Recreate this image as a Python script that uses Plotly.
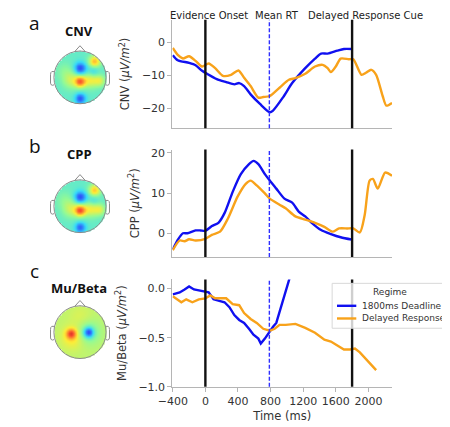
import numpy as np
import plotly.graph_objects as go

# The page keeps the browser's default 8px body margin, so the figure is drawn
# 8px smaller and all positions below are given in window pixels.
PAGE_W, PAGE_H, PAGE_MARGIN = 450, 427, 8
W, H = PAGE_W - PAGE_MARGIN, PAGE_H - PAGE_MARGIN

# ---------------- data ----------------
EVENT_TIMES = [0, 1800]
MEAN_RT = 785
EVENT_LABELS = ["Evidence Onset", "Mean RT", "Delayed Response Cue"]
EVENT_LABEL_POS = [50, 880, 1965]

LEGEND_TITLE = "Regime"
SERIES_NAMES = ["1800ms Deadline", "Delayed Response"]

cnv_t_deadline = [-400, -340, -200, -120, -40, 20, 140, 255, 355, 415, 475, 555, 670, 790, 830, 950, 1065, 1225, 1345, 1420, 1500, 1620, 1700, 1800]
cnv_deadline = [-3.9, -5.4, -6.2, -6.9, -8.6, -9.5, -11.1, -12.0, -12.7, -12.3, -13.2, -15.7, -18.6, -21.1, -20.6, -16.7, -12.3, -7.8, -4.9, -3.4, -3.4, -2.5, -2.0, -2.0]
cnv_t_delayed = [-400, -335, -275, -200, -120, -40, 40, 120, 215, 315, 405, 475, 555, 650, 710, 790, 910, 1025, 1105, 1225, 1345, 1440, 1500, 1540, 1600, 1660, 1760, 1815, 1915, 1975, 2035, 2095, 2175, 2220, 2290]
cnv_delayed = [-1.7, -3.9, -4.9, -4.2, -5.6, -7.3, -6.4, -7.8, -10.1, -9.8, -8.5, -10.7, -13.2, -16.7, -16.5, -16.2, -13.7, -11.3, -10.8, -9.5, -7.3, -6.8, -7.8, -9.0, -7.3, -4.9, -5.1, -5.1, -9.8, -9.1, -8.3, -9.8, -16.2, -19.1, -18.3]

cpp_t_deadline = [-400, -335, -275, -220, -120, -60, 0, 80, 160, 235, 335, 435, 535, 590, 650, 730, 790, 870, 970, 1065, 1145, 1225, 1305, 1420, 1540, 1660, 1800]
cpp_deadline = [-4.0, -1.5, 0.0, 0.0, 0.7, 0.7, 0.6, 1.8, 2.6, 5.0, 10.3, 14.7, 17.2, 18.0, 17.2, 14.7, 13.1, 11.1, 8.6, 7.6, 5.4, 4.2, 2.6, 0.8, -0.2, -1.0, -1.6]
cpp_t_delayed = [-400, -315, -255, -200, -120, 0, 80, 180, 275, 395, 495, 555, 630, 730, 790, 910, 985, 1105, 1225, 1345, 1460, 1560, 1640, 1740, 1815, 1895, 1955, 2015, 2055, 2115, 2205, 2290]
cpp_delayed = [-4.2, -1.8, -2.0, -1.5, -1.8, -1.4, -0.4, 0.4, 3.6, 9.1, 12.3, 13.1, 11.9, 9.9, 8.6, 7.1, 6.2, 4.2, 3.4, 2.6, 1.6, 0.4, 1.2, 1.2, 1.2, 0.2, 4.6, 13.1, 13.5, 11.1, 15.1, 14.3]

mu_t_deadline = [-400, -315, -255, -200, -140, -80, 0, 40, 100, 180, 235, 295, 355, 415, 475, 535, 590, 650, 680, 730, 790, 830, 870, 950, 1035]
mu_deadline = [-0.06, -0.04, -0.01, 0.02, -0.01, -0.02, -0.03, -0.04, -0.11, -0.13, -0.14, -0.19, -0.27, -0.32, -0.35, -0.41, -0.47, -0.51, -0.56, -0.51, -0.43, -0.39, -0.35, -0.13, 0.11]
mu_t_delayed = [-400, -295, -235, -160, -80, 0, 60, 120, 180, 255, 335, 415, 475, 555, 630, 710, 790, 850, 910, 985, 1105, 1225, 1345, 1460, 1540, 1620, 1700, 1775, 1835, 1895, 1975, 2035, 2095]
mu_delayed = [-0.08, -0.14, -0.11, -0.14, -0.11, -0.10, -0.07, -0.10, -0.10, -0.10, -0.16, -0.17, -0.25, -0.31, -0.35, -0.41, -0.43, -0.41, -0.37, -0.37, -0.36, -0.40, -0.45, -0.52, -0.54, -0.58, -0.62, -0.62, -0.61, -0.65, -0.72, -0.78, -0.83]

X_TICKS = [-400, 0, 400, 800, 1200, 1600, 2000]
CNV_TICKS = [0, -10, -20]
CPP_TICKS = [0, 10, 20]
MU_TICKS = [0.0, -0.5, -1.0]

PANEL_LETTERS = ["a", "b", "c"]
PANEL_NAMES = ["CNV", "CPP", "Mu/Beta"]
Y_TITLES = ["CNV (<i>μV/m</i><sup>2</sup>)", "CPP (<i>μV/m</i><sup>2</sup>)", "Mu/Beta (<i>μV/m</i><sup>2</sup>)"]

# topography blobs: (x, y, amplitude, width) on a unit head; background level
cnv_topo_bg = 0.42
cnv_topo_blobs = [(0.0, 0.35, -0.30, 0.16), (0.55, 0.62, 0.30, 0.16), (0.5, 0.22, -0.10, 0.14),
                  (-0.35, -0.1, 0.15, 0.22), (0.4, -0.1, 0.2, 0.2), (0.75, -0.12, 0.16, 0.15),
                  (0.0, -0.15, 0.38, 0.15), (0.0, -0.8, -0.28, 0.14), (-0.6, 0.25, 0.06, 0.25)]
cpp_topo_bg = 0.42
cpp_topo_blobs = [(0.0, 0.35, -0.30, 0.16), (0.55, 0.62, 0.28, 0.16), (0.5, 0.22, -0.08, 0.14),
                  (-0.35, -0.1, 0.15, 0.22), (0.4, -0.1, 0.2, 0.2), (0.75, -0.12, 0.16, 0.15),
                  (0.0, -0.15, 0.40, 0.15), (0.0, -0.8, -0.26, 0.14), (-0.6, 0.25, 0.06, 0.25)]
mu_topo_bg = 0.56
mu_topo_blobs = [(-0.35, -0.05, 0.28, 0.13), (-0.3, -0.2, 0.1, 0.3), (0.32, 0.0, -0.33, 0.13),
                 (0.32, 0.0, -0.12, 0.3), (0.0, 0.6, 0.04, 0.3)]

BLUE = "#1010f0"
ORANGE = "#f8a21a"

# ---------------- helpers ----------------
def px_x(p):
    return (p - PAGE_MARGIN) / W

def px_y(p):
    return 1 - (p - PAGE_MARGIN) / H

XR = [-404, 2290]
X_DOM = [px_x(162.7), px_x(390)]
PANELS = [
    dict(top=17, bot=128, rng=[-25.9, 6.8], ticks=CNV_TICKS, fmt="d"),
    dict(top=150, bot=260, rng=[-5.9, 20.8], ticks=CPP_TICKS, fmt="d"),
    dict(top=283, bot=393, rng=[-1.0, 0.092], ticks=MU_TICKS, fmt=".1f"),
]
SERIES = [
    (cnv_t_deadline, cnv_deadline, cnv_t_delayed, cnv_delayed, "spline"),
    (cpp_t_deadline, cpp_deadline, cpp_t_delayed, cpp_delayed, "spline"),
    (mu_t_deadline, mu_deadline, mu_t_delayed, mu_delayed, "linear"),
]
TOPOS = [(cnv_topo_bg, cnv_topo_blobs), (cpp_topo_bg, cpp_topo_blobs), (mu_topo_bg, mu_topo_blobs)]
HEAD_CENTERS = [76, 208, 337]
LETTER_Y = [20, 146, 274]
NAME_Y = [29, 154, 292]

JET = [[0.0, "rgb(0,0,140)"], [0.12, "rgb(10,40,250)"], [0.34, "rgb(20,215,250)"],
       [0.5, "rgb(130,250,130)"], [0.65, "rgb(255,235,20)"], [0.88, "rgb(250,40,10)"],
       [1.0, "rgb(140,0,0)"]]

fig = go.Figure()
layout = dict(width=W, height=H, margin=dict(l=0, r=0, t=0, b=0),
              plot_bgcolor="white", paper_bgcolor="white", showlegend=False,
              font=dict(family="DejaVu Sans", size=11, color="#333"))
shapes = []
annotations = []

for i, (P, S) in enumerate(zip(PANELS, SERIES)):
    n = i + 1
    xa = "x" if n == 1 else f"x{n}"
    ya = "y" if n == 1 else f"y{n}"
    t1, v1, t2, v2, shp = S
    for (tt, vv, col, name) in [(t1, v1, BLUE, SERIES_NAMES[0]), (t2, v2, ORANGE, SERIES_NAMES[1])]:
        fig.add_trace(go.Scatter(x=tt, y=vv, mode="lines", name=name,
                                 line=dict(color=col, width=2.4, shape=shp, smoothing=0.7),
                                 xaxis=xa, yaxis=ya))
    last = (n == 3)
    xdict = dict(
        domain=X_DOM, range=XR, anchor=ya, showgrid=False, zeroline=False,
        showline=True, linecolor="#b5b5b5", linewidth=1.3,
        ticks="outside" if last else "",
        ticklen=4, tickcolor="#b5b5b5", showticklabels=last,
        tickfont=dict(size=11, color="#333"),
    )
    if last:
        xdict["tickvals"] = X_TICKS
        xdict["title"] = dict(text="Time (ms)", font=dict(size=11.5, color="#333"), standoff=4)
    layout[f"xaxis{'' if n == 1 else n}"] = xdict
    layout[f"yaxis{'' if n == 1 else n}"] = dict(
        domain=[px_y(P["bot"]), px_y(P["top"])], range=P["rng"], anchor=xa,
        showgrid=False, zeroline=False, showline=True, linecolor="#b5b5b5", linewidth=1.3,
        tickvals=P["ticks"], tickformat=P["fmt"], ticks="outside", ticklen=4,
        tickcolor="#b5b5b5", tickfont=dict(size=11, color="#333"),
        title=dict(text=Y_TITLES[i], font=dict(size=11.5, color="#333"), standoff=9),
    )
    for et in EVENT_TIMES:
        shapes.append(dict(type="line", xref=xa, yref=f"{ya} domain", x0=et, x1=et, y0=0, y1=1,
                           line=dict(color="#111", width=2.4), layer="above"))
    shapes.append(dict(type="line", xref=xa, yref=f"{ya} domain", x0=MEAN_RT, x1=MEAN_RT, y0=0, y1=1,
                       line=dict(color="#3030ff", width=1.4, dash="4px,2px"), layer="above"))

for lab, pos in zip(EVENT_LABELS, EVENT_LABEL_POS):
    annotations.append(dict(text=lab, x=pos, y=px_y(12.5), xref="x", yref="paper",
                            showarrow=False, xanchor="center", yanchor="middle",
                            font=dict(size=10, color="#222")))

# legend (drawn in the bottom panel, reaching the right edge like the original)
LX0, LY0, LY1 = 328, 287, 333
shapes.append(dict(type="rect", xref="paper", yref="paper", x0=px_x(LX0), x1=px_x(455),
                   y0=px_y(LY1), y1=px_y(LY0), fillcolor="rgba(255,255,255,0.8)",
                   line=dict(color="#d8d8d8", width=1), layer="above"))
annotations.append(dict(text=LEGEND_TITLE, x=px_x(388), y=px_y(296), xref="paper", yref="paper",
                        showarrow=False, xanchor="center", yanchor="middle",
                        font=dict(size=9, color="#333")))
for k, (name, col) in enumerate(zip(SERIES_NAMES, [BLUE, ORANGE])):
    yy = [310, 323][k]
    shapes.append(dict(type="line", xref="paper", yref="paper", x0=px_x(333), x1=px_x(353),
                       y0=px_y(yy), y1=px_y(yy), line=dict(color=col, width=2.4), layer="above"))
    annotations.append(dict(text=name, x=px_x(356.5), y=px_y(yy), xref="paper", yref="paper",
                            showarrow=False, xanchor="left", yanchor="middle",
                            font=dict(size=9, color="#333")))

# topographic maps
g = np.linspace(-1, 1, 81)
GX, GY = np.meshgrid(g, g)
R = np.sqrt(GX ** 2 + GY ** 2)
for i, (bg, blobs) in enumerate(TOPOS):
    n = 4 + i
    cy = HEAD_CENTERS[i]
    Z = np.full_like(GX, bg)
    for (bx, by, amp, s) in blobs:
        Z += amp * np.exp(-((GX - bx) ** 2 + (GY - by) ** 2) / (2 * s ** 2))
    Z = np.where(R <= 1.0, Z, np.nan)
    fig.add_trace(go.Heatmap(x=g, y=g, z=Z, colorscale=JET, zmin=0, zmax=1, showscale=False,
                             zsmooth="best", opacity=0.85, xaxis=f"x{n}", yaxis=f"y{n}",
                             hoverinfo="skip"))
    half = 36
    layout[f"xaxis{n}"] = dict(domain=[px_x(67 - half), px_x(67 + half)], range=[-1.333, 1.333],
                               visible=False, anchor=f"y{n}")
    layout[f"yaxis{n}"] = dict(domain=[px_y(cy + half), px_y(cy - half)], range=[-1.333, 1.333],
                               visible=False, anchor=f"x{n}")
    hc = "#8a8a8a"
    shapes.append(dict(type="circle", xref=f"x{n}", yref=f"y{n}", x0=-1, x1=1, y0=-1, y1=1,
                       line=dict(color=hc, width=1)))
    shapes.append(dict(type="path", xref=f"x{n}", yref=f"y{n}",
                       path="M -0.2 0.98 L 0 1.2 L 0.2 0.98",
                       line=dict(color=hc, width=1)))
    shapes.append(dict(type="path", xref=f"x{n}", yref=f"y{n}",
                       path="M -0.99 0.22 L -1.08 0.22 Q -1.13 0.2 -1.13 0.1 L -1.13 -0.22 Q -1.12 -0.3 -1.05 -0.3 L -0.99 -0.28",
                       line=dict(color=hc, width=1)))
    shapes.append(dict(type="path", xref=f"x{n}", yref=f"y{n}",
                       path="M 0.99 0.22 L 1.08 0.22 Q 1.13 0.2 1.13 0.1 L 1.13 -0.22 Q 1.12 -0.3 1.05 -0.3 L 0.99 -0.28",
                       line=dict(color=hc, width=1)))
    annotations.append(dict(text=PANEL_LETTERS[i], x=px_x(20), y=px_y(LETTER_Y[i]), xref="paper",
                            yref="paper", showarrow=False, xanchor="center", yanchor="middle",
                            font=dict(family="Open Sans", size=19, color="#111")))
    annotations.append(dict(text=f"<b>{PANEL_NAMES[i]}</b>", x=px_x(66), y=px_y(NAME_Y[i]),
                            xref="paper", yref="paper", showarrow=False, xanchor="center",
                            yanchor="middle", font=dict(family="Open Sans", size=13, color="#111")))

layout["shapes"] = shapes
layout["annotations"] = annotations
fig.update_layout(**layout)
fig.write_html("out.html", config={"displayModeBar": False})
